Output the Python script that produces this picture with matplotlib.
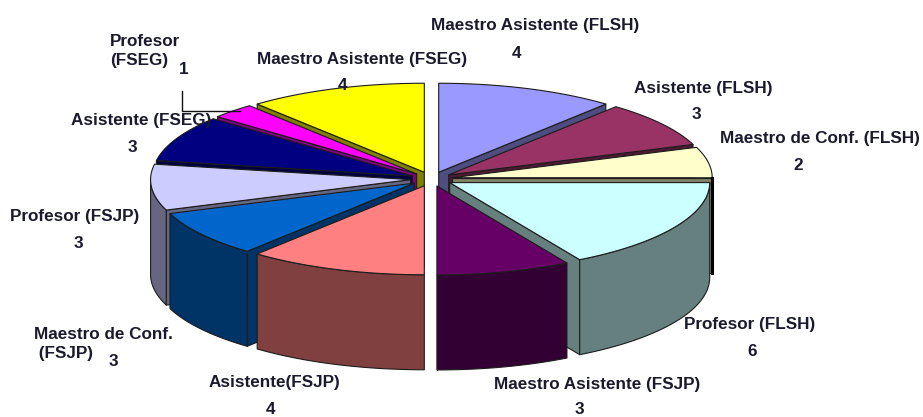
import numpy as np
import matplotlib
matplotlib.use('Agg')
import matplotlib.pyplot as plt
from matplotlib.patches import Polygon

# clockwise from 12 o'clock
categories = ['Maestro Asistente (FLSH)', 'Asistente (FLSH)', 'Maestro de Conf. (FLSH)',
              'Profesor (FLSH)', 'Maestro Asistente (FSJP)', 'Asistente(FSJP)',
              'Maestro de Conf.\n (FSJP)', 'Profesor (FSJP)', 'Asistente (FSEG)',
              'Profesor\n(FSEG)', 'Maestro Asistente (FSEG)']
values = [4, 3, 2, 6, 3, 4, 3, 3, 3, 1, 4]
colors = ['#9999FF', '#993366', '#FFFFCC', '#CCFFFF', '#660066', '#FF8080',
          '#0066CC', '#CCCCFF', '#000080', '#FF00FF', '#FFFF00']

# label placement in pixels: name x, name y, alignment, value x, value y
label_pos = [(535, 25, 'center', 517, 53), (703, 88, 'center', 696, 114),
             (820, 138, 'center', 798, 165), (750, 324, 'center', 752, 352),
             (597, 384, 'center', 579, 410), (274, 382, 'center', 270, 410),
             (34, 344, 'left', 113, 361), (75, 216, 'center', 78, 243),
             (141, 120, 'center', 132, 148), (110, 51, 'left', 184, 69),
             (362, 59, 'center', 342, 85)]

CX, CY = 431.5, 179
RX, RY = 260, 89
DEPTH = 95
EXPLODE = 21
EDGE = '#1c1c1c'
FONT_SIZE = 12.3


def rim(theta, ox, oy):
    # theta in degrees, clockwise from top
    t = np.radians(theta)
    return np.column_stack([ox + RX * np.sin(t), oy - RY * np.cos(t)])


def face(ax, pts, color):
    ax.add_patch(Polygon(pts, closed=True, facecolor=color, edgecolor=EDGE, lw=0.8, joinstyle='round'))


def darker(c):
    return tuple(v * 0.5 for v in matplotlib.colors.to_rgb(c))


def draw_slice(ax, a, b, color):
    mid = np.radians((a + b) / 2)
    ox = CX + EXPLODE * np.sin(mid)
    oy = CY - EXPLODE * RY / RX * np.cos(mid)
    side = darker(color)
    apex = np.array([ox, oy])
    down = np.array([0, DEPTH])

    # radial faces, only where they look towards the viewer
    for edge, normal in ((a, a - 90), (b, b + 90)):
        if np.cos(np.radians(normal)) < 0:
            p = rim(np.array([edge]), ox, oy)[0]
            face(ax, [apex, p, p + down, apex + down], side)
            # the sliver on the far right reads as a solid black line
            if edge == 90:
                ax.plot([p[0], p[0]], [p[1], p[1] + DEPTH], color='black', lw=2.2)

    # outer wall, front half only
    lo, hi = max(a, 90), min(b, 270)
    if hi > lo:
        top = rim(np.linspace(lo, hi, 60), ox, oy)
        face(ax, np.vstack([top, (top + down)[::-1]]), side)

    arc = rim(np.linspace(a, b, 60), ox, oy)
    face(ax, np.vstack([apex, arc]), color)


fig = plt.figure(figsize=(9.23, 4.17), dpi=100)
ax = fig.add_axes([0, 0, 1, 1])
ax.set_xlim(0, 923)
ax.set_ylim(417, 0)
ax.axis('off')

edges = np.concatenate([[0], np.cumsum(values)]) * 360.0 / sum(values)
slices = list(zip(edges[:-1], edges[1:], colors))
# paint back to front
slices.sort(key=lambda s: -np.cos(np.radians((s[0] + s[1]) / 2)))
for a, b, color in slices:
    draw_slice(ax, a, b, color)

# leader line of the small slice
ax.plot([182, 182, 240], [91, 111, 111], color='#111111', lw=1.0)

for name, val, (nx, ny, ha, vx, vy) in zip(categories, values, label_pos):
    ax.text(nx, ny, name, ha=ha, va='center', family='Liberation Sans', weight='bold',
            fontsize=FONT_SIZE, color='#1a1a2e', linespacing=1.4)
    ax.text(vx, vy, str(val), ha='center', va='center', family='Liberation Sans', weight='bold',
            fontsize=FONT_SIZE, color='#1a1a2e')

fig.savefig('out.png', dpi=100)
